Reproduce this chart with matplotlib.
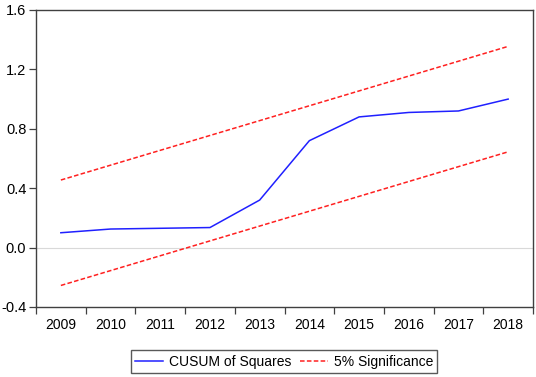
import matplotlib
matplotlib.use('Agg')
import matplotlib.pyplot as plt
import numpy as np

years = ['2009', '2010', '2011', '2012', '2013', '2014', '2015', '2016', '2017', '2018']
cusum_sq = [0.10, 0.125, 0.13, 0.135, 0.32, 0.72, 0.88, 0.91, 0.92, 1.00]
upper_5 = [0.455, 0.555, 0.655, 0.755, 0.855, 0.955, 1.055, 1.155, 1.255, 1.355]
lower_5 = [-0.255, -0.155, -0.055, 0.045, 0.145, 0.245, 0.345, 0.445, 0.545, 0.645]
yticks = [-0.4, 0.0, 0.4, 0.8, 1.2, 1.6]

plt.rcParams['font.family'] = ['Liberation Sans', 'DejaVu Sans']

fig = plt.figure(figsize=(5.36, 3.77), dpi=100)
ax = fig.add_axes([0.0672, 0.1857, 0.9272, 0.7878])

x = np.arange(len(years))
ax.axhline(0.0, color='#d9d9d9', lw=0.8, zorder=1)
l1, = ax.plot(x, cusum_sq, color='#2020ff', lw=1.1, label='CUSUM of Squares', zorder=3)
l2, = ax.plot(x, upper_5, color='#ff2020', lw=1.1, ls=(0, (3, 1.5)), label='5% Significance', zorder=2)
ax.plot(x, lower_5, color='#ff2020', lw=1.1, ls=(0, (3, 1.5)), zorder=2)

ax.set_xlim(-0.5, len(years) - 0.5)
ax.set_ylim(-0.4, 1.6)
ax.set_yticks(yticks)
ax.set_yticklabels(['{:.1f}'.format(v) for v in yticks])

# labels at the points, tick marks between categories
ax.set_xticks(x)
ax.set_xticklabels(years)
ax.set_xticks(np.arange(-0.5, len(years)), minor=True)
ax.tick_params(axis='x', which='major', length=0, pad=8, labelsize=10)
ax.tick_params(axis='x', which='minor', length=5, width=0.9, color='#404040')
ax.tick_params(axis='y', length=5, width=0.9, color='#404040', labelsize=10.5, pad=2)

for s in ax.spines.values():
    s.set_color('#404040')
    s.set_linewidth(1.0)

leg = fig.legend(handles=[l1, l2], loc='center', bbox_to_anchor=(0.530, 0.041), ncol=2,
                 fontsize=10, frameon=True, fancybox=False, edgecolor='#303030',
                 handlelength=2.0, columnspacing=0.65, borderpad=0.3, handletextpad=0.43)
leg.get_frame().set_linewidth(1.0)

fig.savefig('out.png', dpi=100)
